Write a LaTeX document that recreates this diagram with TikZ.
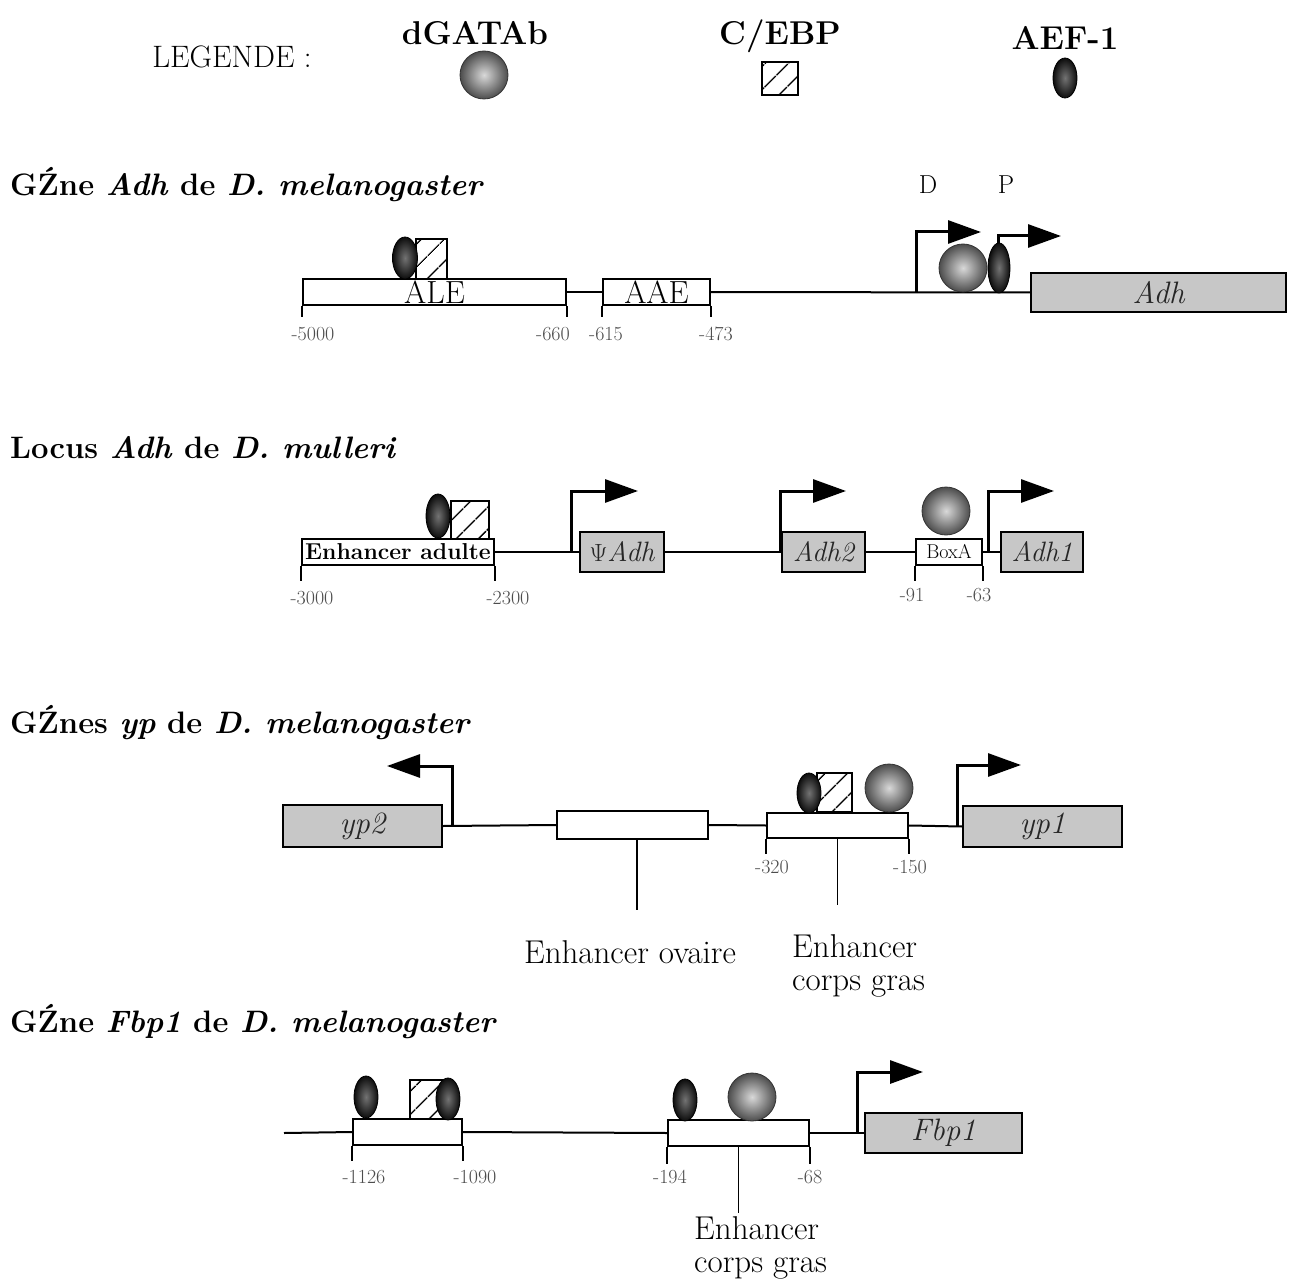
\documentclass[tikz,border=0pt]{standalone}
\usepackage{fontspec}
\usetikzlibrary{arrows.meta,patterns.meta}
\newcommand\fsz[2]{\fontsize{#1}{#2}\selectfont}
\tikzset{
 dna/.style={line width=2pt},
 ebox/.style={draw, line width=1.8pt, fill=white, inner sep=0pt, rectangle},
 gbox/.style={draw, line width=1.8pt, fill=black!22, inner sep=0pt, rectangle, text=black!85, font=\fsz{31}{34}\itshape},
 prom/.style={line width=3pt, -{Triangle[length=33pt,width=23pt]}},
 tickl/.style={line width=1.3pt},
 numlab/.style={font=\fsz{20}{22}, text=black!70, inner sep=0pt},
 gata/.style={inner color=black!15, outer color=black!70, draw=black!80, line width=0.8pt},
 aef/.style={inner color=black!55, outer color=black!95, draw=black, line width=0.8pt},
 cebp/.style={draw, line width=1.4pt, preaction={fill=white}, pattern={Lines[angle=45,distance=17pt,line width=1.8pt]}},
 title/.style={font=\fsz{31}{36}\bfseries, anchor=west, inner sep=0pt},
 leg/.style={font=\fsz{33}{36}\bfseries, inner sep=0pt},
 bottomlab/.style={font=\fsz{33}{33}, inner sep=0pt, align=left}
}
\begin{document}
\begin{tikzpicture}[x=1pt,y=-1pt]
\useasboundingbox[fill=white] (0,0) rectangle (1293,1281);

% ---------------- Legend ----------------
\node[font=\fsz{31}{34}, inner sep=0pt] (legende) at (232,57) {LEGENDE :};
\node[leg] (lgata) at (475,33) {dGATAb};
\shade[gata] (484,75) circle (24);
\node[leg] (lcebp) at (780,36) {C/EBP};
\draw[cebp] (762,62) rectangle (798,95);
\node[leg] (laef) at (1065,38) {AEF-1};
\shade[aef] (1065,78) ellipse (12 and 20);

% ---------------- Row 1: Adh D. melanogaster ----------------
\node[title] (t1) at (10,185) {GŹne \textit{Adh} de \textit{D. melanogaster}};
\node[ebox, minimum width=263pt, minimum height=26pt, font=\fsz{32}{32}] (ale) at (434.5,292) {ALE};
\node[ebox, minimum width=107pt, minimum height=26pt, font=\fsz{32}{32}] (aae) at (656.5,292) {AAE};
\node[gbox, minimum width=255pt, minimum height=39pt] (adh) at (1158.5,292.5) {Adh};
\draw[dna] (ale.east) -- (aae.west);
\draw[dna] (aae.east) -- (adh.west);
\draw[tickl] (ale.south west) -- ++(0,11);
\draw[tickl] (ale.south east) -- ++(0,11);
\draw[tickl] (aae.south west) -- ++(0,11);
\draw[tickl] (aae.south east) -- ++(0,11);
\node[numlab] (n1a) at (313,334) {-5000};
\node[numlab] (n1b) at (553,334) {-660};
\node[numlab] (n1c) at (606,334) {-615};
\node[numlab] (n1d) at (716,334) {-473};
\draw[cebp] (416,239) rectangle (447,279);
\shade[aef] (405,258) ellipse (12.5 and 21);
\coordinate (pD) at (916,292);
\coordinate (pP) at (998,292);
\draw[prom] (pD) -- (916,232) -- (981,232);
\draw[prom] (pP) -- (998,236) -- (1061,236);
\shade[gata] (963,268) circle (24);
\shade[aef] (999,268) ellipse (11 and 25);
\node[font=\fsz{26}{30}, inner sep=0pt] (lD) at (928,185) {D};
\node[font=\fsz{26}{30}, inner sep=0pt] (lP) at (1006,185) {P};

% ---------------- Row 2: Locus Adh D. mulleri ----------------
\node[title] (t2) at (10,448) {Locus \textit{Adh} de \textit{D. mulleri}};
\node[ebox, minimum width=192pt, minimum height=26pt, font=\fsz{23}{24}\bfseries] (enh) at (398,552) {Enhancer adulte};
\node[gbox, minimum width=84pt, minimum height=40pt, font=\fsz{28}{30}\itshape] (psi) at (622,552) {{\upshape$\Psi$}Adh};
\node[gbox, minimum width=83pt, minimum height=40pt, font=\fsz{28}{30}\itshape] (adh2) at (823.5,552) {Adh2};
\node[ebox, minimum width=66pt, minimum height=26pt, font=\fsz{20}{22}] (boxa) at (949,552) {BoxA};
\node[gbox, minimum width=82pt, minimum height=40pt, font=\fsz{28}{30}\itshape] (adh1) at (1042,552) {Adh1};
\draw[dna] (enh.east) -- (psi.west);
\draw[dna] (psi.east) -- (adh2.west);
\draw[dna] (adh2.east) -- (boxa.west);
\draw[dna] (boxa.east) -- (adh1.west);
\draw[tickl] (enh.south west) -- ++(0,15);
\draw[tickl] (enh.south east) -- ++(0,15);
\draw[tickl] (boxa.south west) -- ++(0,15);
\draw[tickl] (boxa.south east) -- ++(0,15);
\node[numlab] (n2a) at (312,598) {-3000};
\node[numlab] (n2b) at (508,598) {-2300};
\node[numlab] (n2c) at (912,595) {-91};
\node[numlab] (n2d) at (979,595) {-63};
\draw[cebp] (451,501) rectangle (489,539);
\shade[aef] (438,516) ellipse (12 and 22);
\coordinate (p2a) at (571,552);
\coordinate (p2b) at (780,552);
\coordinate (p2c) at (988,552);
\draw[prom] (p2a) -- (571,491) -- (638,491);
\draw[prom] (p2b) -- (780,491) -- (846,491);
\draw[prom] (p2c) -- (988,491) -- (1054,491);
\shade[gata] (946,511) circle (24);

% ---------------- Row 3: yp D. melanogaster ----------------
\node[title] (t3) at (10,723) {GŹnes \textit{yp} de \textit{D. melanogaster}};
\node[gbox, minimum width=159pt, minimum height=42pt] (yp2) at (362.5,826) {yp2};
\node[ebox, minimum width=151pt, minimum height=28pt] (ova) at (632.5,825) {};
\node[ebox, minimum width=141pt, minimum height=25pt] (fat) at (837.5,825.5) {};
\node[gbox, minimum width=159pt, minimum height=41pt] (yp1) at (1042.5,826.5) {yp1};
\draw[dna] (yp2.east) -- (ova.west);
\draw[dna] (ova.east) -- (fat.west);
\draw[dna] (fat.east) -- (yp1.west);
\coordinate (p3a) at (452,826);
\coordinate (p3b) at (957,826);
\draw[prom] (p3a) -- (452,766) -- (387,766);
\draw[prom] (p3b) -- (957,765) -- (1021,765);
\draw[tickl] (fat.south west) -- ++(0,15);
\draw[tickl] (fat.south east) -- ++(0,15);
\node[numlab] (n3a) at (772,867) {-320};
\node[numlab] (n3b) at (910,867) {-150};
\node[bottomlab] (lova) at (630,952) {Enhancer ovaire};
\node[bottomlab, anchor=north west] (lfat) at (792,934) {Enhancer\\corps gras};
\draw[tickl] (ova.south -| 637,0) -- (637,910);
\draw[tickl] (fat.south) -- (837.5,905);
\draw[cebp] (817,773) rectangle (852,812);
\shade[aef] (809,793) ellipse (12 and 20);
\shade[gata] (889,788) circle (24);

% ---------------- Row 4: Fbp1 D. melanogaster ----------------
\node[title] (t4) at (10,1022) {GŹne \textit{Fbp1} de \textit{D. melanogaster}};
\coordinate (start4) at (284,1133);
\node[ebox, minimum width=109pt, minimum height=26pt] (fb1) at (407.5,1132) {};
\node[ebox, minimum width=141pt, minimum height=26pt] (fb2) at (738.5,1133) {};
\node[gbox, minimum width=157pt, minimum height=40pt] (fbp) at (943.5,1133) {Fbp1};
\draw[dna] (start4) -- (fb1.west);
\draw[dna] (fb1.east) -- (fb2.west);
\draw[dna] (fb2.east) -- (fbp.west);
\draw[tickl] (fb1.south west) -- ++(0,15);
\draw[tickl] (fb1.south east) -- ++(0,15);
\draw[tickl] (fb2.south west) -- ++(0,17);
\draw[tickl] (fb2.south east) -- ++(0,17);
\node[numlab] (n4a) at (364,1177) {-1126};
\node[numlab] (n4b) at (475,1177) {-1090};
\node[numlab] (n4c) at (670,1177) {-194};
\node[numlab] (n4d) at (810,1177) {-68};
\draw[tickl] (fb2.south) -- (738.5,1213);
\node[bottomlab, anchor=north west] (lfat2) at (694,1216) {Enhancer\\corps gras};
\coordinate (p4) at (857,1133);
\draw[prom] (p4) -- (857,1072) -- (923,1072);
\shade[aef] (366,1097) ellipse (12 and 21);
\draw[cebp] (410,1080) rectangle (449,1119);
\shade[aef] (448,1099) ellipse (12 and 21);
\shade[aef] (685,1100) ellipse (12 and 21);
\shade[gata] (752,1097) circle (24);
\end{tikzpicture}
\end{document}
